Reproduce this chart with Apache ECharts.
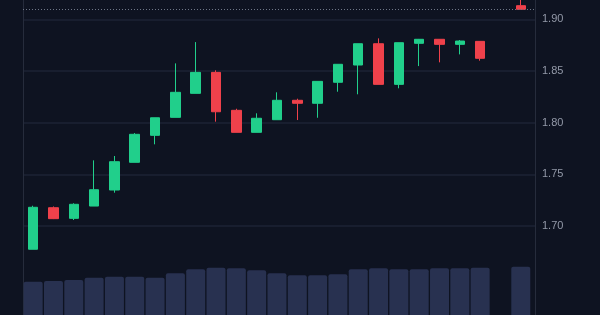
<!DOCTYPE html>
<html>
<head>
<meta charset="utf-8">
<script src="https://cdn.jsdelivr.net/npm/echarts@6/dist/echarts.min.js"></script>
<style>
html,body{margin:0;padding:0;background:#0e1321;}
#c{width:600px;height:315px;}
</style>
</head>
<body>
<div id="c"></div>
<script>
// Slot index of each candle (slot 23 is empty)
var slots  = [0,1,2,3,4,5,6,7,8,9,10,11,12,13,14,15,16,17,18,19,20,21,22,23,24];
var opens  = [1.6776,1.7178,1.7075,1.7194,1.7349,1.7617,1.7878,1.8052,1.8284,1.8487,1.8120,1.7907,1.8029,1.8217,1.8188,1.8391,1.8558,1.8764,1.8371,1.8768,1.8807,1.8758,1.8787,null,1.9132];
var closes = [1.7182,1.7072,1.7211,1.7352,1.7623,1.7888,1.8048,1.8294,1.8487,1.8106,1.7907,1.8043,1.8217,1.8188,1.8400,1.8565,1.8764,1.8371,1.8774,1.8807,1.8758,1.8790,1.8623,null,1.9097];
var lows   = [1.6776,1.7068,1.7059,1.7194,1.7323,1.7617,1.7791,1.8052,1.8284,1.8010,1.7907,1.7907,1.8029,1.8026,1.8048,1.8300,1.8275,1.8371,1.8333,1.8548,1.8584,1.8661,1.8600,null,1.9097];
var highs  = [1.7197,1.7190,1.7221,1.7636,1.7678,1.7900,1.8048,1.8574,1.8780,1.8507,1.8135,1.8091,1.8294,1.8232,1.8400,1.8565,1.8764,1.8816,1.8774,1.8810,1.8807,1.8800,1.8787,null,1.9250];
var volumes= [33.3,34,35,37.3,38.3,38.3,37.3,41.7,45.7,47.3,46.7,44.7,41.7,39.7,39.7,40.7,45.7,46.7,45.7,45.7,46.7,46.7,47.3,null,48.3];
var priceTicks = [1.70,1.75,1.80,1.85,1.90];

var candleData = [], volData = [];
for (var i = 0; i < slots.length; i++) {
  if (opens[i] == null) continue;
  candleData.push([slots[i], opens[i], closes[i], lows[i], highs[i]]);
  volData.push([slots[i], volumes[i]]);
}
var lastClose = candleData[candleData.length-1][2];

var green = '#21cf8b', red = '#ef414b';
var chart = echarts.init(document.getElementById('c'), null, {renderer:'canvas'});
chart.setOption({
  backgroundColor: '#0e1321',
  animation: false,
  grid: [
    {left: 23, right: 65, top: 0, bottom: 37.2},
    {left: 23, right: 65, top: 0, bottom: 0}
  ],
  xAxis: [
    {type: 'value', gridIndex: 0, min: -0.5, max: 24.7, show: false},
    {type: 'value', gridIndex: 1, min: -0.5, max: 24.7, show: false}
  ],
  yAxis: [
    {type: 'value', gridIndex: 0, position: 'right', min: 1.65, max: 1.9187, interval: 0.05,
     axisLine: {show: false}, axisTick: {show: false},
     axisLabel: {show: true, showMinLabel: false, showMaxLabel: false, margin: 7,
       color: '#9399a8', fontSize: 11, fontFamily: 'Liberation Sans, Arial, sans-serif',
       formatter: function(v){ return v.toFixed(2); }},
     splitLine: {show: true, showMinLine: false, showMaxLine: false, lineStyle: {color: '#1d2334', width: 1.5}}},
    {type: 'value', gridIndex: 1, position: 'left', min: 0, max: 315,
     axisLine: {show: true, onZero: false, lineStyle: {color: '#262c3c'}}, axisTick: {show: false},
     axisLabel: {show: false}, splitLine: {show: false}},
    {type: 'value', gridIndex: 1, position: 'right', min: 0, max: 315,
     axisLine: {show: true, onZero: false, lineStyle: {color: '#262c3c'}}, axisTick: {show: false},
     axisLabel: {show: false}, splitLine: {show: false}}
  ],
  series: [
    {type: 'bar', xAxisIndex: 1, yAxisIndex: 1, data: volData, barWidth: 19,
     itemStyle: {color: '#283150', borderRadius: [2,2,0,0]}, silent: true},
    {type: 'candlestick', xAxisIndex: 0, yAxisIndex: 0, data: candleData, barWidth: 10,
     itemStyle: {color: green, color0: red, borderColor: green, borderColor0: red, borderWidth: 1},
     markLine: {silent: true, symbol: ['none','none'], label: {show: false},
       lineStyle: {color: '#6e7687', type: [1,2], width: 1},
       data: [{yAxis: lastClose}]}}
  ]
});
</script>
</body>
</html>
